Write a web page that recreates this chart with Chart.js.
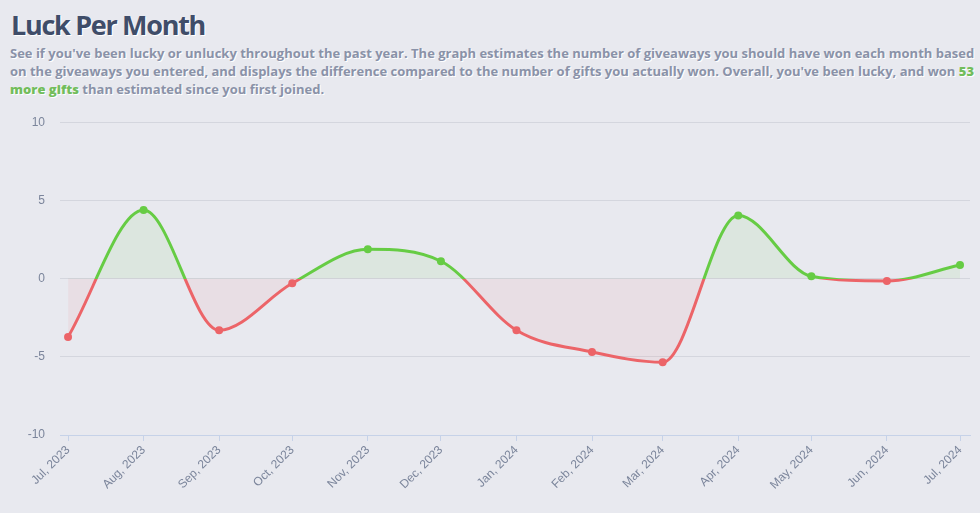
<!DOCTYPE html>
<html>
<head>
<meta charset="utf-8">
<script src="https://cdn.jsdelivr.net/npm/chart.js@4.4.1/dist/chart.umd.min.js"></script>
<style>
  html, body { margin: 0; padding: 0; background: #e8e9ef; width: 980px; height: 513px; overflow: hidden; }
  h1 { position: absolute; left: 11px; top: 7px; margin: 0; font-family: "Open Sans", sans-serif; font-weight: 700; font-size: 27px; line-height: 36px; color: #3f4d69; text-shadow: 1px 1px 0 #fff; letter-spacing: -1.3px; }
  p { position: absolute; left: 10px; top: 44px; width: 970px; margin: 0; font-family: "Open Sans", sans-serif; font-weight: 700; font-size: 13px; line-height: 18px; color: #8a92a8; text-shadow: 1px 1px 0 #fff; }
  p b { color: #72bd5b; }
  #wrap { position: absolute; left: 0; top: 100px; width: 980px; height: 413px; }
</style>
</head>
<body>
<h1>Luck Per Month</h1>
<p>See if you've been lucky or unlucky throughout the past year. The graph estimates the number of giveaways you should have won each month based on the giveaways you entered, and displays the difference compared to the number of gifts you actually won. Overall, you've been lucky, and won <b>53 more gifts</b> than estimated since you first joined.</p>
<div id="wrap"><canvas id="c"></canvas></div>
<script>
const months = ['2023-07','2023-08','2023-09','2023-10','2023-11','2023-12','2024-01','2024-02','2024-03','2024-04','2024-05','2024-06','2024-07'];
const monthLabels = ['Jul, 2023','Aug, 2023','Sep, 2023','Oct, 2023','Nov, 2023','Dec, 2023','Jan, 2024','Feb, 2024','Mar, 2024','Apr, 2024','May, 2024','Jun, 2024','Jul, 2024'];
const luck = [-3.73, 4.38, -3.30, -0.30, 1.87, 1.11, -3.30, -4.69, -5.35, 4.04, 0.15, -0.15, 0.87];
const yTicks = [-10, -5, 0, 5, 10];

const DAY = 86400000;
const t0 = Date.UTC(2023, 6, 1);
const dayOf = m => { const [y, mo] = m.split('-').map(Number); return (Date.UTC(y, mo - 1, 1) - t0) / DAY; };
const xs = months.map(dayOf);
const points = xs.map((x, i) => ({ x, y: luck[i] }));

const GREEN = 'rgb(102,204,68)';
const RED = 'rgb(236,100,104)';

function lineGradient(ctx) {
  const chart = ctx.chart;
  const area = chart.chartArea;
  if (!area) return GREEN;
  const ys = chart.scales.y;
  const z = ys.getPixelForValue(0);
  const f = Math.min(1, Math.max(0, (z - area.top) / (area.bottom - area.top)));
  const g = chart.ctx.createLinearGradient(0, area.top, 0, area.bottom);
  g.addColorStop(0, GREEN);
  g.addColorStop(f, GREEN);
  g.addColorStop(f, RED);
  g.addColorStop(1, RED);
  return g;
}

new Chart(document.getElementById('c'), {
  type: 'line',
  data: {
    datasets: [{
      data: points,
      borderColor: lineGradient,
      borderWidth: 3,
      cubicInterpolationMode: 'monotone',
      pointRadius: 4,
      pointBorderWidth: 0,
      pointBackgroundColor: c => (c.raw && c.raw.y >= 0) ? GREEN : RED,
      fill: { target: 'origin', above: 'rgba(102,204,68,0.09)', below: 'rgba(236,100,104,0.08)' }
    }]
  },
  options: {
    responsive: true,
    maintainAspectRatio: false,
    animation: false,
    layout: { padding: { top: 22, right: 10, bottom: 0, left: 0 } },
    plugins: { legend: { display: false }, tooltip: { enabled: false } },
    scales: {
      x: {
        type: 'linear',
        min: -3.3,
        max: 370.1,
        afterBuildTicks: s => { s.ticks = xs.map(v => ({ value: v })); },
        afterFit: s => { s.height = 78; },
        grid: { drawOnChartArea: false, drawTicks: true, tickLength: 6, color: '#c6d2e8' },
        border: { color: '#c6d2e8' },
        ticks: {
          autoSkip: false,
          minRotation: 45,
          maxRotation: 45,
          padding: 2,
          color: '#7b859b',
          font: { family: 'Liberation Sans, Arial, sans-serif', size: 12 },
          callback: (v) => { const i = xs.indexOf(v); return i >= 0 ? monthLabels[i] : ''; }
        }
      },
      y: {
        min: -10,
        max: 10,
        afterBuildTicks: s => { s.ticks = yTicks.map(v => ({ value: v })); },
        afterFit: s => { s.width = 60; },
        grid: { drawTicks: false, color: '#d4d6de' },
        border: { display: false },
        ticks: {
          padding: 15,
          color: '#7b859b',
          font: { family: 'Liberation Sans, Arial, sans-serif', size: 12 }
        }
      }
    }
  }
});
</script>
</body>
</html>
